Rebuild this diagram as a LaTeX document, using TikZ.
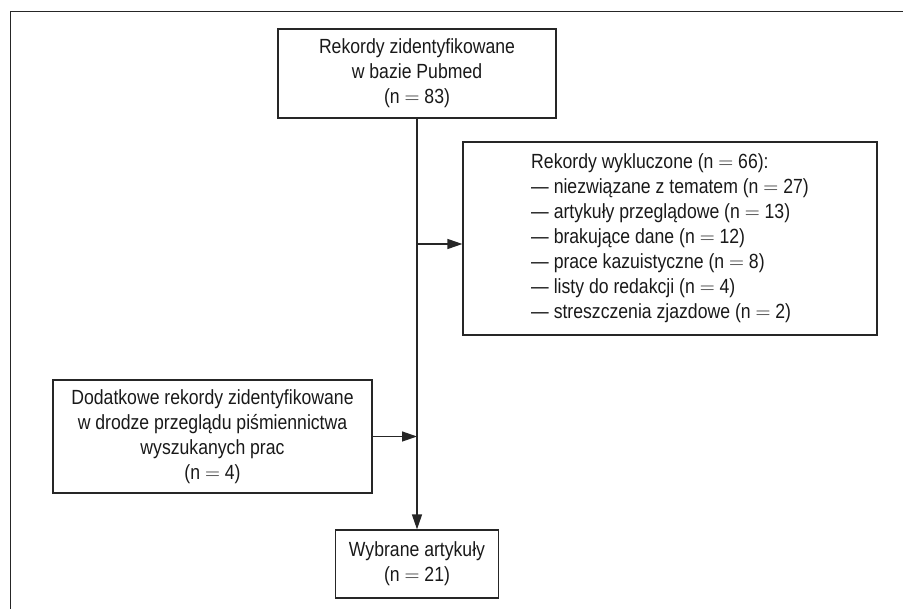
\documentclass[tikz,border=0pt]{standalone}
\usepackage{fontspec}
\setmainfont{Liberation Sans}[FakeStretch=0.86]
\usetikzlibrary{arrows.meta}

\tikzset{
  flowbox/.style={draw=black!85, line width=1.2pt, inner sep=0pt, align=center,
    font=\fontsize{20.5}{25}\selectfont, text=black!90},
  flowline/.style={draw=black!85, line width=1.3pt},
  flowarrow/.style={flowline, -{Triangle[length=15pt,width=10pt]}}
}
\newcommand{\eqsign}{\ $=$\ }

\begin{document}
\begin{tikzpicture}[x=1pt,y=-1pt]
			\useasboundingbox (0,0) rectangle (903,609);
			\draw[flowline] (903,11.5) -- (10.5,11.5) -- (10.5,609);
			\node[flowbox, minimum width=278pt, minimum height=89pt] (pubmed) at (417,73.5)
				{Rekordy zidentyfikowane\\w bazie Pubmed\\(n\eqsign 83)};
			\node[flowbox, align=left, minimum width=414pt, minimum height=193pt] (excluded) at (670,238.5)
				{Rekordy wykluczone (n\eqsign 66):\\
				 --- niezwiązane z tematem (n\eqsign 27)\\
				 --- artykuły przeglądowe (n\eqsign 13)\\
				 --- brakujące dane (n\eqsign 12)\\
				 --- prace kazuistyczne (n\eqsign 8)\\
				 --- listy do redakcji (n\eqsign 4)\\
				 --- streszczenia zjazdowe (n\eqsign 2)};
			\node[flowbox, minimum width=319pt, minimum height=113pt] (extra) at (212.5,436.5)
				{Dodatkowe rekordy zidentyfikowane\\w drodze przeglądu piśmiennictwa\\wyszukanych prac\\(n\eqsign 4)};
			\node[flowbox, minimum width=163pt, minimum height=68pt] (chosen) at (417,564)
				{Wybrane artykuły\\(n\eqsign 21)};
			\coordinate (split) at (417,244);
			\draw[flowarrow] (pubmed.south) -- (chosen.north);
			\draw[flowarrow] (split) -- (split -| excluded.west);
			\draw[flowarrow] (extra.east) -- (extra.east -| pubmed.south);
		\end{tikzpicture}
\end{document}
